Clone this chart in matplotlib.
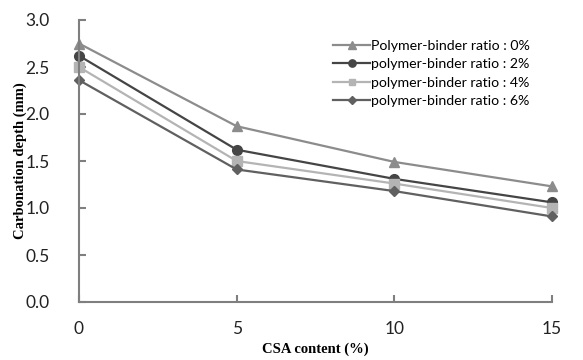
import matplotlib
matplotlib.use('Agg')
import matplotlib.pyplot as plt

csa = [0, 5, 10, 15]
ratio_0 = [2.75, 1.87, 1.49, 1.23]
ratio_2 = [2.62, 1.62, 1.31, 1.06]
ratio_4 = [2.50, 1.50, 1.26, 1.00]
ratio_6 = [2.36, 1.41, 1.18, 0.91]
labels = ['Polymer-binder ratio : 0%', 'polymer-binder ratio : 2%',
          'polymer-binder ratio : 4%', 'polymer-binder ratio : 6%']

fig = plt.figure(figsize=(5.83, 3.6), dpi=100)
ax = fig.add_axes([79 / 583, 1 - 302 / 360, (552 - 79) / 583, (302 - 20) / 360])

styles = [('#8c8c8c', '^', 7), ('#454545', 'o', 7), ('#b4b4b4', 's', 6.5), ('#606060', 'D', 5.5)]
for y, lab, (c, m, ms) in zip([ratio_0, ratio_2, ratio_4, ratio_6], labels, styles):
   ax.plot(csa, y, color=c, marker=m, markersize=ms, lw=1.6, label=lab, clip_on=False)

ax.set_xlim(0, 15)
ax.set_ylim(0, 3.0)
ax.set_xticks([0, 5, 10, 15])
ax.set_yticks([0, 0.5, 1.0, 1.5, 2.0, 2.5, 3.0])
ax.set_yticklabels(['%.1f' % v for v in ax.get_yticks()])
for s in ['top', 'right']:
   ax.spines[s].set_visible(False)
for s in ['left', 'bottom']:
   ax.spines[s].set_color('#7f7f7f')
   ax.spines[s].set_linewidth(1.5)
ax.tick_params(direction='in', length=5, width=1.5, color='#7f7f7f', labelsize=12.5)
ax.tick_params(axis='x', pad=14)
ax.tick_params(axis='y', pad=21)
for t in ax.get_xticklabels() + ax.get_yticklabels():
   t.set_fontfamily('Lato')
   t.set_color('#222222')

ax.set_xlabel('CSA content (%)', fontfamily='Liberation Serif', fontweight='bold', fontsize=10.5, labelpad=4)
ax.set_ylabel('Carbonation depth (mm)', fontfamily='Liberation Serif', fontweight='bold', fontsize=10.5, labelpad=-1)

leg = ax.legend(loc='upper right', bbox_to_anchor=(0.98, 0.975), frameon=False,
                prop={'family': 'Lato', 'size': 10.2}, handlelength=2.6, handletextpad=0.05,
                labelspacing=0.45, markerscale=0.75)

fig.savefig('out.png', dpi=100)
